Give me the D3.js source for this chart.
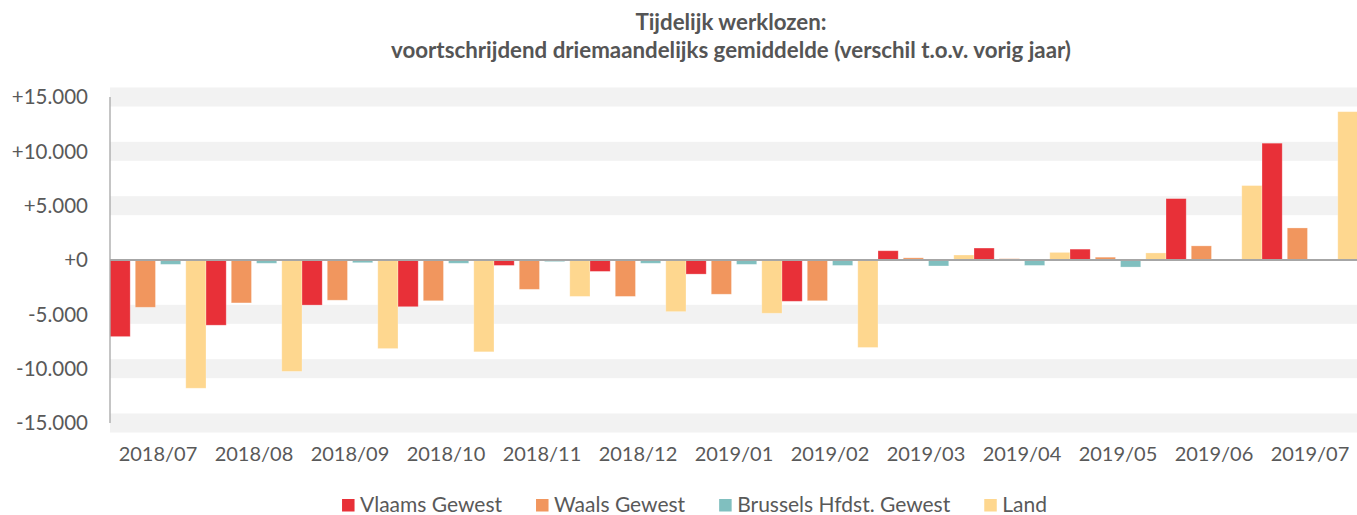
<!DOCTYPE html>
<html>
<head>
<meta charset="utf-8">
<script src="https://cdn.jsdelivr.net/npm/d3@7"></script>
<style>
html,body{margin:0;padding:0;background:#fff;}
svg{display:block;}
</style>
</head>
<body>
<svg id="chart" width="1357" height="515"></svg>
<script>
const categories = ["2018/07","2018/08","2018/09","2018/10","2018/11","2018/12","2019/01","2019/02","2019/03","2019/04","2019/05","2019/06","2019/07"];
const seriesNames = ["Vlaams Gewest","Waals Gewest","Brussels Hfdst. Gewest","Land"];
const vlaams  = [-7050,-6000,-4150,-4300,-500,-1050,-1300,-3800,850,1100,1000,5650,10750];
const waals   = [-4350,-3950,-3700,-3750,-2700,-3350,-3150,-3750,200,120,260,1300,2950];
const brussel = [-400,-300,-250,-300,-150,-300,-400,-500,-550,-500,-650,30,30];
const land    = [-11800,-10250,-8150,-8450,-3350,-4750,-4900,-8050,460,700,650,6850,13650];
const yTicks  = [-15000,-10000,-5000,0,5000,10000,15000];
const titleLines = ["Tijdelijk werklozen:","voortschrijdend driemaandelijks gemiddelde (verschil t.o.v. vorig jaar)"];

const colors = ["#E83038","#F1965E","#80BFBF","#FED78F"];
const seriesValues = [vlaams, waals, brussel, land];
const FONT = "Lato, 'Open Sans', sans-serif";

(function() {
const svg = d3.select("#chart");
const pL = 110, pR = 1358, pT = 97, pB = 423;

const x = d3.scaleBand().domain(categories).range([pL, pR]).padding(0);
const y = d3.scaleLinear().domain([-15000, 15000]).range([pB, pT]);
const bw = x.bandwidth() / 4.75;
const inner = d3.scaleBand().domain(d3.range(4)).range([0, bw * 4.75]).paddingInner(0.2).paddingOuter(0);

// grid bands
svg.append("g").selectAll("rect").data(yTicks.filter(d => d !== 0)).join("rect")
  .attr("x", pL).attr("width", 1357 - pL)
  .attr("y", d => y(d) - 9.5).attr("height", 19)
  .attr("fill", "#F2F2F2");

// bars
const data = [];
categories.forEach((c, i) => seriesValues.forEach((vals, s) => data.push({c, s, v: vals[i]})));
svg.append("g").selectAll("rect").data(data).join("rect")
  .attr("x", d => x(d.c) + inner(d.s))
  .attr("width", inner.bandwidth())
  .attr("y", d => Math.min(y(d.v), y(0)))
  .attr("height", d => Math.abs(y(d.v) - y(0)))
  .attr("fill", d => colors[d.s])
  .attr("stroke", "#fff").attr("stroke-opacity", 0.35).attr("stroke-width", 0.8);

// y axis line
svg.append("line").attr("x1", pL).attr("x2", pL).attr("y1", pT).attr("y2", pB)
  .attr("stroke", "#A6A6A6").attr("stroke-width", 1.3);
// zero line
svg.append("line").attr("x1", pL).attr("x2", 1357).attr("y1", y(0)).attr("y2", y(0))
  .attr("stroke", "#A6A6A6").attr("stroke-width", 2);

// y tick labels
const fmt = d => (d < 0 ? "-" : "+") + d3.format(",")(Math.abs(d)).replace(/,/g, ".");
svg.append("g").selectAll("text").data(yTicks).join("text")
  .attr("x", 88).attr("y", d => y(d)).attr("dy", "0.36em")
  .attr("text-anchor", "end")
  .attr("font-family", FONT).attr("font-size", 20.5).attr("fill", "#595959")
  .text(fmt);

// x labels
svg.append("g").selectAll("text").data(categories).join("text")
  .attr("x", d => x(d) + x.bandwidth() / 2).attr("y", 461)
  .attr("text-anchor", "middle")
  .attr("font-family", FONT).attr("font-size", 20).attr("fill", "#595959")
  .text(d => d);

// title
svg.append("g").selectAll("text").data(titleLines).join("text")
  .attr("x", 731).attr("y", (d, i) => 29.5 + i * 28.5)
  .attr("text-anchor", "middle")
  .attr("font-family", FONT).attr("font-weight", "bold").attr("font-size", 22.3).attr("fill", "#555555")
  .text(d => d);

// legend
const lg = svg.append("g");
const items = lg.selectAll("g").data(seriesNames).join("g");
items.append("rect").attr("width", 12.5).attr("height", 12.5).attr("y", 499).attr("fill", (d, i) => colors[i]);
items.append("text").attr("x", 18).attr("y", 511.5)
  .attr("font-family", FONT).attr("font-size", 21).attr("fill", "#595959").text(d => d);
const gap = 34;
const widths = [];
items.each(function() { widths.push(18 + this.querySelector("text").getComputedTextLength()); });
const total = d3.sum(widths) + gap * (widths.length - 1);
let start = 694.5 - total / 2;
items.attr("transform", (d, i) => { const t = `translate(${start},0)`; start += widths[i] + gap; return t; });
})();
</script>
</body>
</html>
